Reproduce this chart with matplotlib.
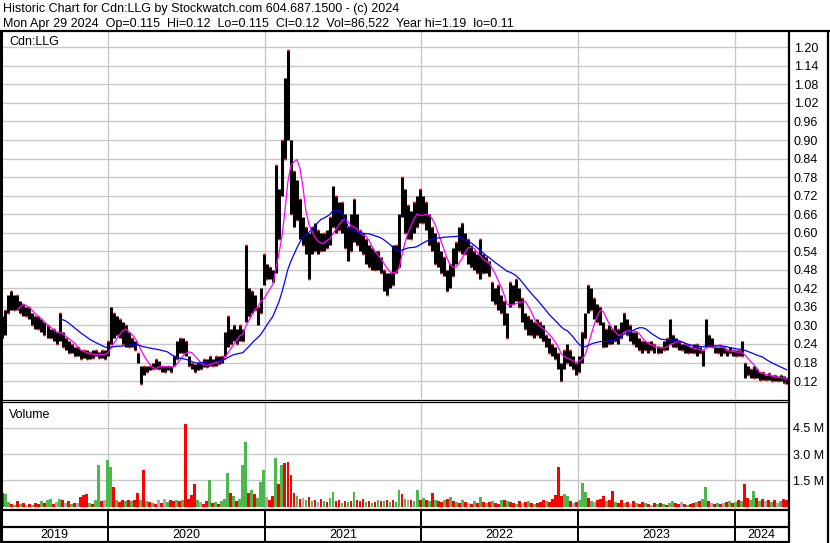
import pandas as pd
import matplotlib
matplotlib.use('agg')
import matplotlib.pyplot as plt

plt.rcParams['font.family'] = ['Liberation Sans', 'DejaVu Sans']
plt.rcParams['font.size'] = 9

W, H = 830, 543

# weekly price range (CAD)
week_high = [
    .33, .35, .40, .41, .40, .40, .38, .37, .36, .36,
    .34, .33, .33, .32, .31, .30, .29, .29, .28, .34,
    .28, .26, .25, .24, .23, .23, .22, .22, .22, .215,
    .22, .22, .215, .22, .22, .25, .36, .34, .33, .32,
    .31, .30, .28, .26, .25, .21, .17, .17, .17, .17,
    .18, .19, .185, .17, .17, .17, .17, .20, .25, .26,
    .26, .25, .20, .18, .175, .18, .18, .19, .19, .20,
    .19, .20, .20, .20, .28, .33, .29, .30, .29, .30,
    .29, .56, .42, .41, .40, .36, .42, .53, .50, .49,
    .48, .82, .74, .90, 1.10, 1.19, .90, .80, .77, .71,
    .65, .62, .60, .62, .63, .61, .60, .60, .61, .65,
    .75, .72, .70, .70, .66, .62, .66, .71, .66, .61,
    .60, .58, .56, .55, .54, .54, .52, .48, .47, .47,
    .56, .56, .66, .78, .74, .69, .67, .70, .72, .74,
    .72, .70, .66, .62, .60, .57, .54, .52, .48, .50,
    .55, .57, .62, .63, .60, .58, .56, .54, .53, .58,
    .53, .52, .51, .44, .42, .43, .40, .38, .34, .44,
    .43, .45, .42, .39, .34, .33, .32, .31, .32, .31,
    .30, .27, .26, .24, .23, .21, .18, .22, .24, .22,
    .20, .18, .20, .28, .34, .43, .42, .39, .37, .36,
    .31, .29, .30, .29, .30, .29, .31, .34, .32, .30,
    .28, .28, .26, .25, .25, .245, .25, .24, .235, .23,
    .25, .26, .32, .27, .26, .25, .24, .24, .24, .23,
    .24, .24, .23, .22, .32, .27, .26, .23, .23, .23,
    .23, .22, .23, .22, .22, .22, .25, .18, .17, .16,
    .17, .16, .15, .15, .14, .145, .14, .14, .135, .14,
    .135, .13,
]
week_low = [
    .26, .27, .34, .35, .35, .35, .34, .33, .33, .32,
    .30, .29, .29, .28, .27, .26, .26, .25, .24, .25,
    .23, .22, .21, .21, .20, .20, .19, .195, .19, .19,
    .195, .20, .195, .195, .19, .20, .24, .26, .27, .26,
    .24, .23, .23, .23, .22, .18, .11, .14, .15, .155,
    .16, .16, .16, .15, .15, .155, .15, .17, .19, .21,
    .21, .20, .17, .16, .15, .155, .16, .165, .165, .17,
    .17, .17, .175, .18, .20, .23, .24, .25, .24, .25,
    .25, .31, .33, .34, .35, .30, .34, .43, .45, .45,
    .44, .47, .58, .72, .84, .90, .66, .62, .64, .58,
    .56, .53, .45, .53, .54, .53, .54, .54, .55, .56,
    .62, .60, .61, .60, .55, .51, .54, .57, .56, .54,
    .53, .50, .49, .48, .48, .48, .47, .41, .40, .42,
    .43, .47, .49, .65, .60, .58, .58, .60, .62, .63,
    .63, .61, .56, .54, .50, .49, .47, .46, .41, .42,
    .46, .50, .54, .53, .53, .50, .49, .48, .47, .45,
    .47, .47, .46, .38, .37, .35, .34, .30, .26, .36,
    .37, .38, .36, .31, .29, .27, .27, .26, .27, .26,
    .25, .23, .21, .20, .19, .16, .12, .16, .18, .17,
    .16, .14, .15, .18, .26, .34, .35, .32, .31, .30,
    .23, .23, .24, .24, .25, .24, .26, .28, .27, .25,
    .24, .23, .22, .21, .22, .21, .22, .21, .21, .21,
    .22, .22, .24, .23, .23, .22, .22, .21, .21, .21,
    .21, .20, .21, .17, .23, .23, .23, .21, .21, .20,
    .21, .20, .21, .20, .20, .20, .20, .13, .14, .13,
    .13, .13, .125, .125, .125, .125, .12, .12, .12, .12,
    .115, .11,
]
# volume in millions of shares, one bar per week
volume_m = [
    .75, .7, .25, .15, .1, .3, .15, .2, .1, .15,
    .1, .2, .15, .3, .2, .35, .45, .15, .25, .45,
    .35, .2, .3, .15, .2, .2, .55, .65, .7, .2,
    .15, .35, 2.4, .3, .35, 2.65, 2.27, 1.1, .35, .25,
    .4, .3, .35, .3, .4, .75, .35, 2.08, .3, .25,
    .2, .15, .35, .2, .45, .25, .35, .3, .4, .3,
    .35, 4.7, .45, .65, 1.29, .4, .25, .15, .3, 1.5,
    .2, .25, .15, .3, .45, 1.92, .8, .6, .3, .45,
    2.38, 3.69, .75, .95, .7, .5, 1.4, 2.1, .55, .4,
    .6, 2.77, 1.27, 2.38, 2.5, 2.53, 1.8, .75, .6, .45,
    .5, .35, .55, .3, .35, .25, .45, .3, .25, .5,
    .85, .3, .4, .2, .3, .25, .3, .85, .35, .3,
    .45, .25, .3, .2, .25, .35, .3, .3, .35, .25,
    .35, .25, .92, .7, .45, .35, .4, .3, .92, .35,
    .5, .4, .3, .8, .35, .3, .25, .35, .45, .55,
    .3, .25, .2, .35, .25, .2, .15, .3, .2, .55,
    .25, .2, .25, .3, .2, .15, .35, .4, .3, .25,
    .2, .15, .3, .2, .25, .3, .2, .15, .2, .25,
    .4, .3, .25, .45, .65, 2.27, .6, .7, .6, .3,
    .2, .25, .35, 1.35, .85, .5, .3, .25, .35, .45,
    .6, .3, .4, .88, .25, .2, .35, .2, .25, .15,
    .3, .2, .15, .25, .2, .15, .1, .2, .15, .2,
    .15, .1, .2, .3, .2, .15, .25, .15, .1, .15,
    .2, .25, .3, .45, 1.1, .3, .2, .15, .2, .15,
    .2, .25, .3, .2, .25, .4, .3, 1.31, .5, .35,
    .87, .5, .3, .45, .3, .4, .25, .35, .2, .3,
    .45, .35,
]
# g = up, r = down, n = unchanged
volume_dir = (
    "rggrgrgrnr" "grrgrggrng" "rnrgrnrrrg" "rggrnggrgr" "rgrgrrgrgr"
    "grnrngrrgr" "grrrrgnrrg" "rgrgggrgrg" "ggrgrgggnr" "rgrgrrrrgr"
    "ngrgrnrgrg" "grrgrgrgrr" "rgrgrgrgrg" "rggrgnrggr" "grgrgrrgrg"
    "rgrgrnrgrg" "rgrgrrgrgr" "rgrnrgrgrr" "rgrrrrrggr" "nrgggrgnrr"
    "rgrrgrrgrn" "rgrrgrnrgr" "grggrrnrgr" "rgrggrnrgr" "nrgrgrgrrg"
    "grgrnrgrng" "rr"
)

price_ticks = [0.12, 0.18, 0.24, 0.30, 0.36, 0.42, 0.48, 0.54, 0.60, 0.66,
               0.72, 0.78, 0.84, 0.90, 0.96, 1.02, 1.08, 1.14, 1.20]
volume_ticks = [1.5, 3.0, 4.5]
years = [2019, 2020, 2021, 2022, 2023, 2024]

title1 = "Historic Chart for Cdn:LLG by Stockwatch.com 604.687.1500 - (c) 2024"
title2 = ("Mon Apr 29 2024  Op=0.115  Hi=0.12  Lo=0.115  Cl=0.12  "
          "Vol=86,522  Year hi=1.19  lo=0.11")

dates = pd.date_range('2019-05-01', periods=len(week_high), freq='7D')
df = pd.DataFrame({'high': week_high, 'low': week_low, 'vol': volume_m,
                   'dir': list(volume_dir)}, index=dates)
df['close'] = (df['high'] + df['low']) / 2
ma_short = df['close'].rolling(6).mean()
ma_long = df['close'].rolling(20).mean()

x0, x1 = pd.Timestamp('2019-04-30'), pd.Timestamp('2024-05-04')
year_starts = [pd.Timestamp(f'{y}-01-01') for y in years[1:]]
grid_c = '#c8c8c8'
vol_colors = {'g': '#4cb84c', 'r': '#ff0000', 'n': '#aaaaaa'}


def box(left, top, right, bottom):
    return [left / W, 1 - bottom / H, (right - left) / W, (bottom - top) / H]


fig = plt.figure(figsize=(W / 100, H / 100), dpi=100)

# price panel
ax = fig.add_axes(box(2, 32, 788, 399))
ax.vlines(df.index, df['low'], df['high'], color='black', lw=2.2, zorder=3)
ax.plot(df.index[::2], df['low'][::2], 's', color='#ff0000', ms=1.3, mew=0, zorder=4)
ax.plot(df.index[1::2], df['high'][1::2], 's', color='#ff0000', ms=1.3, mew=0, zorder=4)
ax.plot(df.index, ma_short, color='#ff00ff', lw=0.9, zorder=5)
ax.plot(df.index, ma_long, color='#0000ff', lw=0.9, zorder=5)
ax.set_xlim(x0, x1)
ax.set_ylim(0.0619, 1.2495)
ax.set_yticks(price_ticks)
ax.set_yticklabels([f'{t:.2f}' for t in price_ticks])
ax.yaxis.tick_right()
ax.tick_params(axis='y', length=0, pad=4.3, labelsize=9)
ax.set_xticks([])
for d in year_starts:
    ax.axvline(d, color=grid_c, lw=1, zorder=1)
ax.grid(axis='y', color=grid_c, lw=1, zorder=1)
for s in ax.spines.values():
    s.set_visible(False)

# volume panel
axv = fig.add_axes(box(2, 402, 788, 509))
axv.bar(df.index, df['vol'], width=6.5,
        color=[vol_colors[c] for c in df['dir']], zorder=3)
axv.set_xlim(x0, x1)
axv.set_ylim(-0.14, 5.98)
axv.set_yticks(volume_ticks)
axv.set_yticklabels([f'{t:.1f} M' for t in volume_ticks])
axv.yaxis.tick_right()
axv.tick_params(axis='y', length=0, pad=3.6, labelsize=9)
axv.set_xticks([])
for d in year_starts:
    axv.axvline(d, color=grid_c, lw=1, zorder=1)
axv.grid(axis='y', color=grid_c, lw=1, zorder=1)
for s in axv.spines.values():
    s.set_visible(False)

# year strip
axy = fig.add_axes(box(2, 509, 788, 541))
axy.set_xlim(x0, x1)
axy.set_ylim(0, 32)
axy.axis('off')
for d in year_starts:
    axy.axvline(d, color='black', lw=1.4)
for y in years:
    a = max(x0, pd.Timestamp(f'{y}-01-01'))
    b = min(x1, pd.Timestamp(f'{y + 1}-01-01'))
    axy.text(a + (b - a) / 2, 2.5, str(y), ha='center', va='baseline', fontsize=9)

# frame and labels in pixel coordinates
ov = fig.add_axes([0, 0, 1, 1], zorder=10)
ov.set_xlim(0, W)
ov.set_ylim(H, 0)
ov.axis('off')
ov.patch.set_visible(False)
kw = dict(color='black', solid_capstyle='butt')
ov.plot([0, W], [31, 31], lw=1.6, **kw)
ov.plot([1, 1], [31, H], lw=2.2, **kw)
ov.plot([789, 789], [31, H], lw=1.6, **kw)
ov.plot([828, 828], [31, H], lw=1.6, **kw)
ov.plot([0, 789], [400, 400], lw=0.9, **kw)
ov.plot([0, 789], [402, 402], lw=0.9, **kw)
ov.plot([0, 789], [509.5, 509.5], lw=1.6, **kw)
ov.plot([0, 789], [527, 527], lw=1.6, **kw)
ov.plot([0, 789], [541.5, 541.5], lw=1.6, **kw)
ov.text(3, 11.7, title1, fontsize=9, va='baseline')
ov.text(3, 26.5, title2, fontsize=9, va='baseline')
ov.text(9, 45, 'Cdn:LLG', fontsize=9, va='baseline')
ov.text(9, 417.5, 'Volume', fontsize=9, va='baseline')

fig.savefig('out.png', dpi=100)
